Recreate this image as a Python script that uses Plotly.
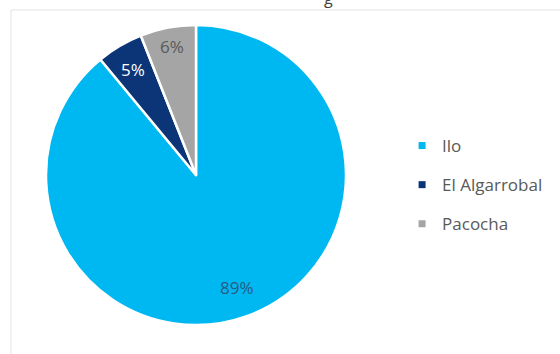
import math
import plotly.graph_objects as go

labels = ["Ilo", "El Algarrobal", "Pacocha"]
values = [89, 5, 6]
colors = ["#00B8F1", "#0B3577", "#A5A5A5"]
text_colors = ["#2A5A82", "#FFFFFF", "#595959"]
label_radius = [0.80, 0.82, 0.87]  # fraction of pie radius where each % label sits

W, H = 560, 354
cx, cy, R = 196, 175, 150  # pie centre / radius in pixels

fig = go.Figure()
fig.add_trace(go.Pie(
    labels=labels,
    values=values,
    sort=False,
    direction="clockwise",
    rotation=0,
    marker=dict(colors=colors, line=dict(color="white", width=2.5)),
    textinfo="none",
    domain=dict(x=[(cx - R) / W, (cx + R) / W], y=[(H - cy - R) / H, (H - cy + R) / H]),
    hoverinfo="skip",
    showlegend=False,
))

# legend entries (dummy traces so the item spacing can match)
for i, (lab, col) in enumerate(zip(labels, colors)):
    fig.add_trace(go.Scatter(
        x=[None], y=[None], mode="markers", name=lab,
        marker=dict(symbol="square", size=7, color=col),
        legendgroup=f"g{i}", showlegend=True,
    ))

# percentage labels, placed at each slice's mid-angle
total = sum(values)
annotations = []
cum = 0
for v, tc, rf in zip(values, text_colors, label_radius):
    mid = (cum + v / 2) / total * 2 * math.pi
    cum += v
    px = cx + math.sin(mid) * rf * R
    py = cy - math.cos(mid) * rf * R
    annotations.append(dict(
        text=f"{round(v / total * 100)}%", xref="paper", yref="paper",
        x=px / W, y=1 - py / H, xanchor="center", yanchor="middle", showarrow=False,
        font=dict(family="Open Sans", size=17, color=tc),
    ))

annotations.append(dict(
    text="g", xref="paper", yref="paper", x=328 / W, y=1 - 11 / H,
    xanchor="center", yanchor="bottom", showarrow=False,
    font=dict(family="Open Sans", size=16, color="#404040"),
))

fig.update_layout(
    width=W, height=H,
    margin=dict(l=0, r=0, t=0, b=0),
    paper_bgcolor="white",
    plot_bgcolor="white",
    showlegend=True,
    xaxis=dict(visible=False),
    yaxis=dict(visible=False),
    legend=dict(
        x=0.718, y=1 - 185 / H, xanchor="left", yanchor="middle",
        font=dict(family="Open Sans", size=17, color="#595959"),
        tracegroupgap=14, itemwidth=30,
        bgcolor="rgba(0,0,0,0)",
    ),
    shapes=[
        dict(type="line", xref="paper", yref="paper", x0=11 / W, x1=1, y0=1 - 10 / H, y1=1 - 10 / H,
             line=dict(color="#E3E3E3", width=1)),
        dict(type="line", xref="paper", yref="paper", x0=11 / W, x1=11 / W, y0=0, y1=1 - 10 / H,
             line=dict(color="#E3E3E3", width=1)),
    ],
    annotations=annotations,
)

fig.write_html("out.html")
